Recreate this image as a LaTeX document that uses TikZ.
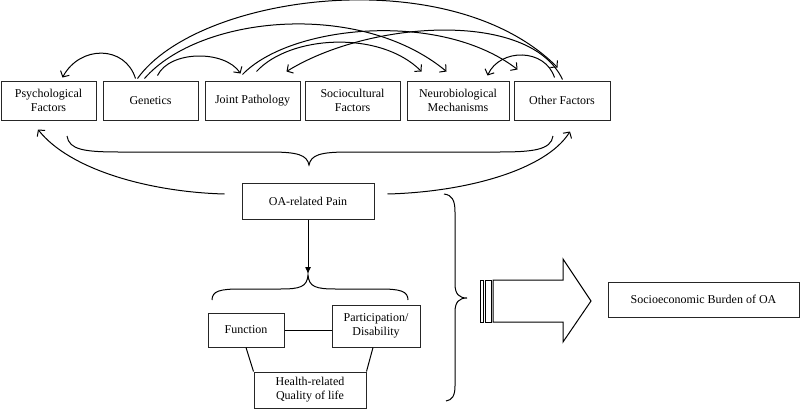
\documentclass[tikz,border=0pt]{standalone}
\usepackage{fontspec}
\setmainfont{Liberation Serif}
\usetikzlibrary{arrows.meta,calc}
\begin{document}
\begin{tikzpicture}[x=1pt,y=-1pt,
  box/.style={draw=black!85,line width=1pt,inner sep=0pt,align=center,
    font=\fontsize{12}{14}\selectfont,text=black},
  link/.style={line width=1pt,-{Straight Barb[length=4.5pt,width=10pt]}},
  plain/.style={line width=1pt},
  down/.style={line width=1pt,-{Latex[length=7pt,width=6pt]}}]
\useasboundingbox (0,0) rectangle (800,410);
% top row
\node[box,minimum width=95pt,minimum height=39pt] (psych) at (48.5,100.5) {Psychological\\Factors};
\node[box,minimum width=95pt,minimum height=39pt] (gen) at (150.5,100.5) {Genetics};
\node[box,minimum width=95pt,minimum height=39pt] (joint) at (252.5,100.5) {Joint Pathology};
\node[box,minimum width=95pt,minimum height=39pt] (socio) at (352.5,100.5) {Sociocultural\\Factors};
\node[box,minimum width=102pt,minimum height=39pt] (neuro) at (458,100.5) {Neurobiological\\Mechanisms};
\node[box,minimum width=96pt,minimum height=39pt] (other) at (562,100.5) {Other Factors};
% middle
\node[box,minimum width=132pt,minimum height=36pt] (pain) at (308,201) {OA-related Pain};
\node[box,minimum width=76pt,minimum height=34pt] (func) at (246,330) {Function};
\node[box,minimum width=88pt,minimum height=42pt] (part) at (376,326) {Participation/\\Disability};
\node[box,minimum width=112pt,minimum height=36pt] (health) at (310,390) {Health-related\\Quality of life};
\node[box,minimum width=191pt,minimum height=35pt] (burden) at (703.5,299.5) {Socioeconomic Burden of OA};

% arcs above the top row
\draw[link] ([shift={(33,-2)}]gen.north west) .. controls (125,45) and (80,45) .. ([shift={(62,-3)}]psych.north west);
\draw[link] ([shift={(55,-5)}]gen.north west) .. controls (170,50) and (225,50) .. ([shift={(36,-7)}]joint.north west);
\draw[link] ([shift={(35,-2)}]gen.north west) .. controls (198,-6) and (450,-40) .. ([shift={(44,-13)}]other.north west);
\draw[link] ([shift={(42,-2)}]gen.north west) .. controls (200,15) and (360,0) .. ([shift={(40,-9)}]neuro.north west);
\draw[link] ([shift={(38,-6)}]joint.north west) .. controls (290,25) and (440,10) .. ([shift={(4,-11)}]other.north west);
\draw[link] ([shift={(52,-9)}]joint.north west) .. controls (290,35) and (380,30) .. ([shift={(15,-9)}]neuro.north west);
\draw[link] ([shift={(41,-3)}]other.north west) .. controls (545,48) and (500,48) .. ([shift={(81,-5)}]neuro.north west);
\draw[link] ([shift={(49,-1)}]other.north west) .. controls (530,10) and (370,20) .. ([shift={(82,-9)}]joint.north west);

% brace under the top row
\draw[plain] (67,136) .. controls (69,150) and (85,152) .. (120,152) -- (270,152)
  .. controls (298,152) and (307,155) .. (309,165)
  .. controls (311,155) and (320,152) .. (348,152) -- (498,152)
  .. controls (533,152) and (551,150) .. (553,136);

% curved arrows from pain
\coordinate (pl) at ([shift={(-17,-7)}]pain.west);
\coordinate (pr) at ([shift={(13,-7)}]pain.east);
\draw[link] (pl) .. controls (150,192) and (70,170) .. ([shift={(-10.5,9)}]psych.south);
\draw[link] (pr) .. controls (466,192) and (546,170) .. ([shift={(8,11)}]other.south);

% pain down to lower brace
\coordinate (lb) at (308,274);
\draw[down] (pain.south) -- (lb);
\draw[plain] (212,300) .. controls (212,291) and (220,289) .. (240,289) -- (280,289)
  .. controls (300,289) and (307,287) .. (308,275)
  .. controls (309,287) and (316,289) .. (336,289) -- (380,289)
  .. controls (400,289) and (408,291) .. (408,300);

% lower boxes links
\draw[plain] (func.east) -- (func.east -| part.west);
\draw[plain] (func.south) -- (health.north west);
\draw[plain] ([xshift=-3pt]part.south) -- (health.north east);

% big right brace
\draw[plain] (444,194) .. controls (452,195) and (455,200) .. (455,212) -- (455,284)
  .. controls (455,294) and (459,298) .. (467,298)
  .. controls (459,298) and (455,302) .. (455,312) -- (455,386)
  .. controls (455,396) and (452,400) .. (446,401);

% block arrow with stripes
\draw[plain] (480,280) rectangle (483,322);
\draw[plain] (485,280) rectangle (491,322);
\draw[plain] (493,280) -- (563,280) -- (563,259) -- (591,301) -- (563,342) -- (563,322) -- (493,322) -- cycle;
\end{tikzpicture}
\end{document}
